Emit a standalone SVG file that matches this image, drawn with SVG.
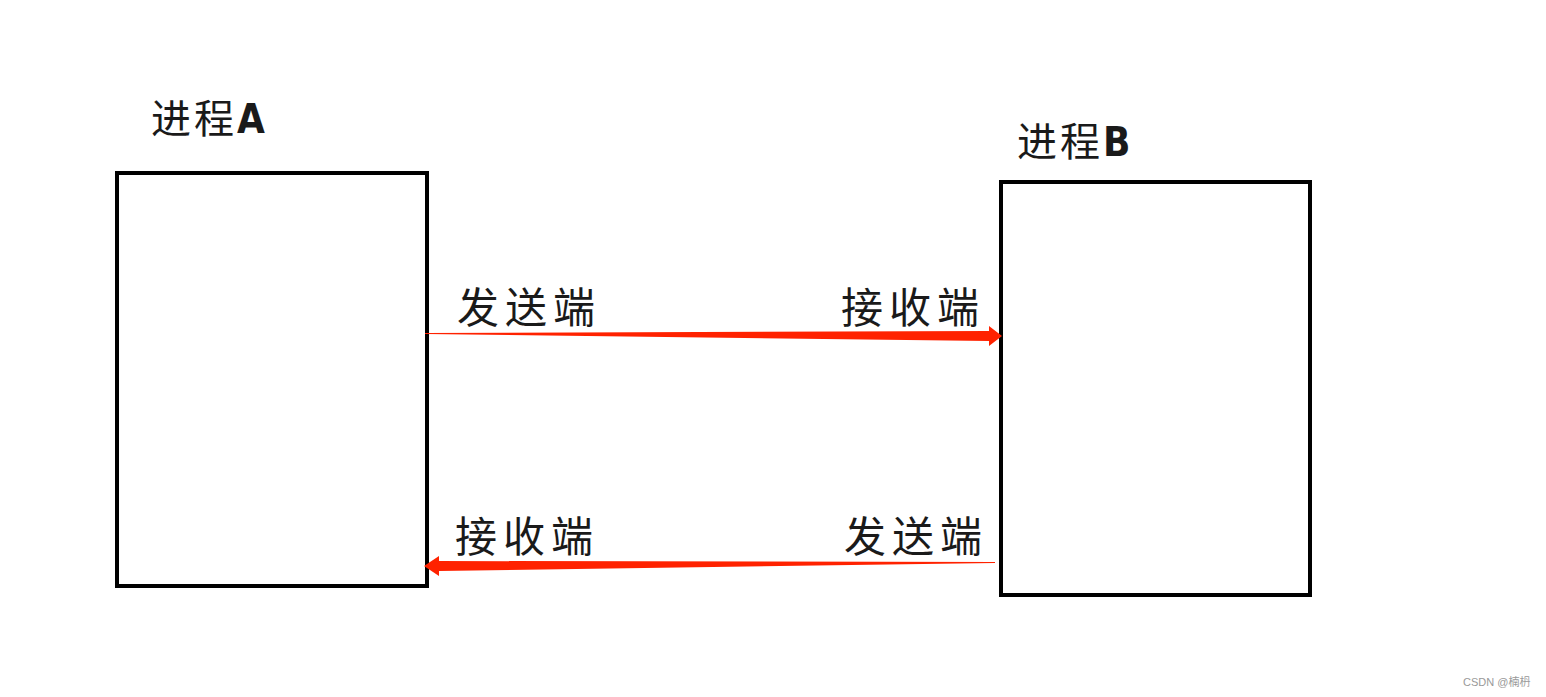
<svg xmlns="http://www.w3.org/2000/svg" width="1546" height="697" viewBox="0 0 1546 697">
<style>
.box{fill:none;stroke:#000;stroke-width:4}
.t{font-family:"Noto Sans CJK SC","Liberation Sans",sans-serif;fill:#1a1a1a;font-size:40px;letter-spacing:3px}
.b{font-family:"DejaVu Sans Condensed","Liberation Sans",sans-serif;font-weight:bold;font-size:40px}
.lbl{font-family:"Noto Sans CJK SC",sans-serif;fill:#1a1a1a;font-size:42px;letter-spacing:6px}
.arr{fill:#ff2200}
.wm{font-family:"Liberation Sans","Noto Sans CJK SC",sans-serif;fill:#999;font-size:11px}
</style>
<rect width="1546" height="697" fill="#fff"/>
<g id="processA">
<rect class="box" x="117" y="173" width="310" height="413"/>
<text class="t" x="151" y="133">进程<tspan class="b">A</tspan></text>
</g>
<g id="processB">
<rect class="box" x="1001" y="182" width="309" height="413"/>
<text class="t" x="1017" y="156">进程<tspan class="b">B</tspan></text>
</g>
<g id="labels">
<text class="lbl" x="457" y="323">发送端</text>
<text class="lbl" x="841" y="323">接收端</text>
<text class="lbl" x="455" y="552">接收端</text>
<text class="lbl" x="844" y="552">发送端</text>
</g>
<g id="connectors">
<polygon class="arr" points="425,333 989,331 989,326 1002,336 989,346 989,341 425,334"/>
<polygon class="arr" points="995,562 439,561 439,556 424,566 439,576 439,571 995,563"/>
</g>
<text class="wm" x="1463" y="686">CSDN @楠枬</text>
</svg>
